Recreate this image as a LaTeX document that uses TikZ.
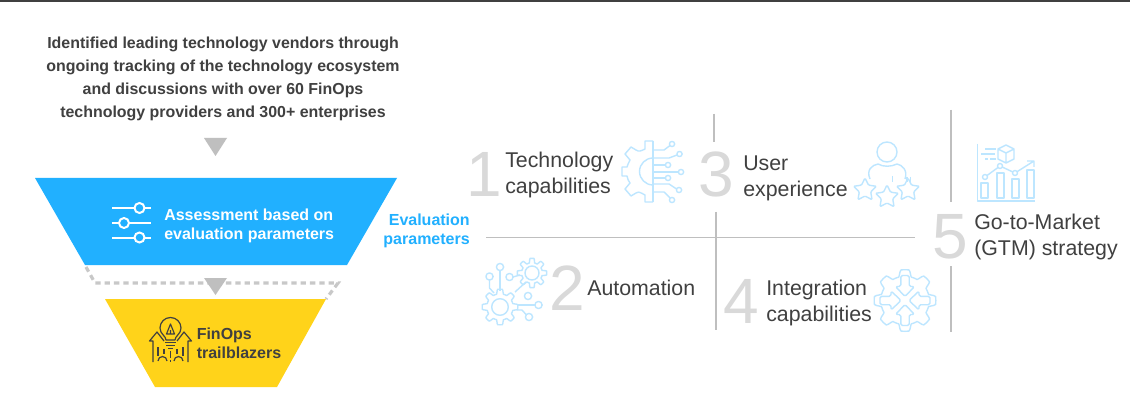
\documentclass[tikz,border=0pt]{standalone}
\usepackage{fontspec}
\setmainfont{Liberation Sans}
\usetikzlibrary{calc}
\definecolor{ink}{HTML}{404040}
\definecolor{blueF}{HTML}{21B0FF}
\definecolor{yellowF}{HTML}{FFD31A}
\definecolor{numC}{HTML}{D9D9D9}
\definecolor{ruleC}{HTML}{BFBFBF}
\definecolor{iconC}{HTML}{BDE6FF}
\definecolor{triC}{HTML}{BFBFBF}
\definecolor{dotC}{HTML}{C8C8C8}
\tikzset{
 x=0.75pt,y=-0.75pt,
 lead/.style={font=\fontsize{11.95}{17.4}\selectfont\bfseries,text=ink,align=center,inner sep=0pt},
 wbold/.style={font=\fontsize{12}{14.5}\selectfont\bfseries,text=white,align=left,inner sep=0pt,anchor=west},
 dbold/.style={font=\fontsize{12}{14.5}\selectfont\bfseries,text=ink,align=left,inner sep=0pt,anchor=west},
 bbold/.style={font=\fontsize{12}{14.5}\selectfont\bfseries,text=blueF,align=right,inner sep=0pt,anchor=east},
 lab/.style={font=\fontsize{16}{19.5}\selectfont,text=ink,align=left,inner sep=0pt,anchor=west},
 num/.style={font=\fontsize{48}{48}\selectfont,text=numC,inner sep=0pt,anchor=base},
 sep/.style={draw=ruleC,line width=0.85pt},
 ico/.style={draw=iconC,line width=1.05pt,line join=round,fill=none},
 icoW/.style={draw=white,line width=1.5pt},
 icoD/.style={draw=ink,line width=0.9pt,line join=round,fill=none},
}
\newcommand{\gearat}[6]{% style, cx, cy, R, a, teeth
 \draw[#1] plot[domain=0:360,samples=145] ({#2+(#4+#5*max(-1,min(1,2.5*cos(#6*\x))))*cos(\x)},{#3+(#4+#5*max(-1,min(1,2.5*cos(#6*\x))))*sin(\x)}) -- cycle;}
\newcommand{\starat}[4]{% style cx cy r
 \draw[#1,rounded corners=0.8pt] ({#2+#4*cos(-90)},{#3+#4*sin(-90)})
 \foreach \k in {1,...,9}{ -- ({#2+(#4*(1-0.5*mod(\k,2)))*cos(\k*36-90)},{#3+(#4*(1-0.5*mod(\k,2)))*sin(\k*36-90)}) } -- cycle;}
\begin{document}
\begin{tikzpicture}
\useasboundingbox (0,0) rectangle (1130,413);
\fill[white] (0,0) rectangle (1130,413);
\fill[ink] (0,0) rectangle (1130,2);

% lead text
\node[lead] (lead) at (223,79) {Identified leading technology vendors through\\ongoing tracking of the technology ecosystem\\and discussions with over 60 FinOps\\technology providers and 300+ enterprises};
\fill[triC] (204,138) -- (227,138) -- (215.5,156) -- cycle;

% funnel
\coordinate (d1) at (86,267); \coordinate (d2) at (95,283); \coordinate (d3) at (338,283); \coordinate (d4) at (326,299);
\draw[dotC,line width=2.4pt,dash pattern=on 4pt off 3pt] (d1) -- (d2) -- (d3) -- (d4);
\fill[blueF] (35,178) -- (397,178) -- (347,265) -- (85,265) -- cycle;
\fill[yellowF] (105,299) -- (326,299) -- (277,387) -- (155,387) -- cycle;
\fill[triC] (204,278) -- (227,278) -- (215.5,295) -- cycle;

% sliders icon
\foreach \yy/\xx in {208/139.5,223/124,237.5/139.5}{
 \draw[icoW] (112,\yy) -- (151,\yy);
 \draw[icoW,fill=blueF] (\xx,\yy) circle[radius=5];
}
\node[wbold] (assess) at (164,226) {Assessment based on\\evaluation parameters};
\node[dbold] (fin) at (196.5,343) {FinOps\\trailblazers};
\node[bbold] (evalp) at (470,231) {Evaluation\\parameters};

% bulb icon
\draw[icoD] (166,340) .. controls (166,336) and (160,334) .. (160,328) arc[start angle=180,end angle=360,radius=10.5] .. controls (181,334) and (175,336) .. (175,340) -- cycle;
\draw[icoD] (165,342.5) -- (176,342.5) (166,345.5) -- (175,345.5) (168,348.5) -- (173,348.5);
\draw[icoD] (170.5,324) -- (166.5,334) -- (174.5,334) -- cycle (170.5,330) -- (170.5,334);
\draw[icoD] (153,362) -- (153,341) -- (149.5,341) -- (157,332) -- (164,341);
\draw[icoD] (188,362) -- (188,341) -- (191.5,341) -- (184,332) -- (177,341);
\draw[icoD] (170.5,351) -- (170.5,358) (170.5,360) -- (170.5,362) (158,347) -- (158,356) (183,347) -- (183,356);
\draw[icoD] (158,361) arc[start angle=180,end angle=360,radius=4.5] (174,361) arc[start angle=180,end angle=360,radius=4.5];
\draw[icoD] (164,349) -- (164,354) (177,349) -- (177,354);

% separators
\coordinate (hL) at (486,237.5); \coordinate (hR) at (915,237.5);
\coordinate (v1a) at (714,114); \coordinate (v1b) at (714,142);
\coordinate (v2a) at (716,212); \coordinate (v2b) at (716,330);
\coordinate (v3a) at (951,110); \coordinate (v3b) at (951,202);
\coordinate (v4a) at (951,266); \coordinate (v4b) at (951,332);
\draw[sep] (hL) -- (hR);
\draw[sep] (v1a) -- (v1b);
\draw[sep] (v2a) -- (v2b);
\draw[sep] (v3a) -- (v3b);
\draw[sep] (v4a) -- (v4b);

% numbers
\node[num] (n1) at (484,197) {1};
\node[num] (n2) at (567,310) {2};
\node[num] (n3) at (716,197) {3};
\node[num] (n4) at (741,323) {4};
\node[num] (n5) at (950,258) {5};

% labels
\node[lab] (t1) at (505,175) {Technology\\capabilities};
\node[lab] (t2) at (587,288) {Automation};
\node[lab] (t3) at (743,178) {User\\experience};
\node[lab] (t4) at (766,303) {Integration\\capabilities};
\node[lab] (t5) at (974,237) {Go-to-Market\\(GTM) strategy};

% icon 1: half gear with circuit
\draw[ico] (653,141) -- (653,202);
\draw[ico] (653,141) -- (645,141) -- (645,149) .. controls (641,151) and (639,152) .. (636,150) -- (631,147)
 -- (625,154) -- (630,160) .. controls (628,163) and (628,165) .. (627,167) -- (622,167) -- (622,176) -- (627,176)
 .. controls (628,179) and (628,181) .. (630,183) -- (625,189) -- (631,196) -- (636,193) .. controls (639,191) and (641,193) .. (645,195) -- (645,202) -- (653,202);
\draw[ico] (653,158) arc[start angle=-90,end angle=-270,radius=13.5];
\foreach \px/\py in {672/144,679.5/154,668/165,681/172,668/178,679/190,672/200}{
 \draw[ico] (\px,\py) circle[radius=2.6];
}
\draw[ico] (653,150) -- (664,150) -- (670,145.5);
\draw[ico] (653,158) -- (669,158) -- (677,155);
\draw[ico] (653,165) -- (665.4,165);
\draw[ico] (653,172) -- (678.4,172);
\draw[ico] (653,178) -- (665.4,178);
\draw[ico] (653,184) -- (669,184) -- (676.6,189);
\draw[ico] (653,192) -- (664,192) -- (670,198);

% icon 3: user with stars
\draw[ico] (887,152) circle[radius=10];
\draw[ico] (870,179) .. controls (866,170) and (872,165) .. (878,164) .. controls (883,167) and (891,167) .. (897,164) .. controls (902,165) and (908,170) .. (905,179);
\draw[ico] (892.5,176) -- (892.5,182) (907,177) -- (907,182) (910.5,177) -- (910.5,182);
\starat{ico}{865}{190}{12}
\starat{ico}{887}{197}{12}
\starat{ico}{908}{190}{12}

% icon 5: chart
\draw[ico] (977.5,144) -- (977.5,201) -- (1035,201);
\foreach \xa/\ya in {981/183,997/173,1012/179,1027/170}{
 \draw[ico] (\xa,\ya) rectangle (\xa+7,198);
}
\draw[ico] (985,177) -- (1000,166) -- (1015,173) -- (1034,161) (1027,161) -- (1034,161) -- (1034,167);
\foreach \xa/\ya in {985/177,1000/166,1015/173}{
 \draw[ico,fill=white] (\xa,\ya) circle[radius=2.5];
}
\draw[ico] (1006,145) -- (1014,149) -- (1014,159) -- (1006,163) -- (998,159) -- (998,149) -- cycle (998,149) -- (1006,153) -- (1014,149) (1006,153) -- (1006,163);
\draw[ico] (985,149) -- (996,149) (981,154) -- (995,154) (985,159) -- (988,159) (990,159) -- (996,159);

% icon 2: gears
\gearat{ico}{500}{307}{15.5}{2.3}{8}
\draw[ico] (500,307) circle[radius=8.3];
\gearat{ico}{532}{273}{12.5}{2.2}{8}
\draw[ico] (532,273) circle[radius=7];
\foreach \xa/\ya in {500/267,489.5/276.5,509.5/277,528/296,538.5/305,529/317}{
 \draw[ico] (\xa,\ya) circle[radius=3.6];
}
\draw[ico] (500,270.6) -- (500,291);
\draw[ico] (489.5,280) -- (489.5,288) -- (494,293);
\draw[ico] (513,277) -- (520,275);
\draw[ico] (515,292) -- (526,282);
\draw[ico] (517,305) -- (534.9,305);
\draw[ico] (517,310) -- (522,310) -- (526.5,315);

% icon 4: gear with arrows pointing inward
\gearat{ico}{905}{300.5}{27.5}{3.3}{8}
\foreach \r in {0,90,180,270}{
 \begin{scope}[shift={(905,300.5)},rotate=\r]
  \draw[ico,rounded corners=1.2pt] (-25,-4.2) -- (-14,-4.2) -- (-14,-9.5) -- (-4,0) -- (-14,9.5) -- (-14,4.2) -- (-25,4.2) -- cycle;
 \end{scope}
}
\end{tikzpicture}
\end{document}
